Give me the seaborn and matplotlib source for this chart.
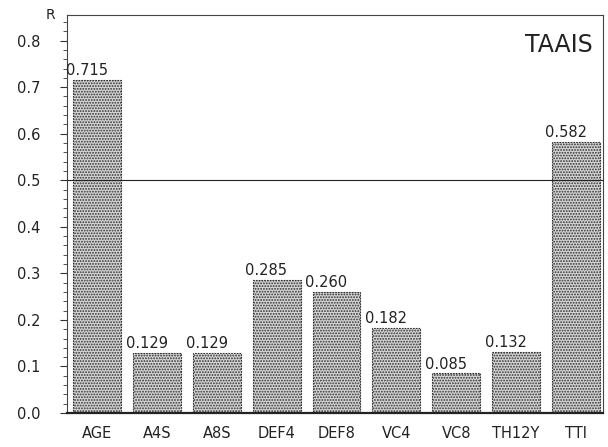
import matplotlib
matplotlib.use("Agg")
import matplotlib.pyplot as plt
import seaborn as sns
import pandas as pd
from matplotlib.ticker import MultipleLocator

categories = ["AGE", "A4S", "A8S", "DEF4", "DEF8", "VC4", "VC8", "TH12Y", "TTI"]
r_values = [0.715, 0.129, 0.129, 0.285, 0.260, 0.182, 0.085, 0.132, 0.582]
y_ticks = [0.0, 0.1, 0.2, 0.3, 0.4, 0.5, 0.6, 0.7, 0.8]

df = pd.DataFrame({"var": categories, "R": r_values})

sns.set_theme(style="white")
plt.rcParams["font.family"] = ["DejaVu Sans"]
plt.rcParams["hatch.color"] = "#2e2e2e"
plt.rcParams["hatch.linewidth"] = 0.9

fig = plt.figure(figsize=(6.08, 4.47), dpi=100)
ax = fig.add_axes([67 / 608, 34 / 447, (603 - 67) / 608, (413 - 15) / 447])

sns.barplot(data=df, x="var", y="R", ax=ax, color="#d4d4d4", width=0.8,
            edgecolor="#333333", linewidth=0.8, saturation=1)
for patch in ax.patches:
    patch.set_hatch("......")
    patch.set_linestyle((0, (1.5, 1)))

# value labels sit just above each bar, nudged slightly left
for i, v in enumerate(r_values):
    ax.text(i - 0.17, v + 0.004, f"{v:.3f}", ha="center", va="bottom",
            fontsize=10.5, color="#222222")

ax.axhline(0.5, color="#222222", linewidth=0.8, zorder=5)

ax.set_xlim(-0.5, 8.45)
ax.set_ylim(0, 0.855)
ax.set_yticks(y_ticks)
ax.set_yticklabels([f"{t:.1f}" for t in y_ticks], fontsize=10.5, color="#222222")
ax.yaxis.set_minor_locator(MultipleLocator(0.02))
ax.tick_params(axis="y", which="major", left=True, length=5, width=0.8,
               color="#333333", pad=14)
ax.tick_params(axis="y", which="minor", left=True, length=3, width=0.6,
               color="#333333")
ax.tick_params(axis="x", bottom=False, labelsize=10.5, labelcolor="#222222", pad=3)
ax.set_xlabel("")
ax.set_ylabel("")

for side in ["left", "right", "top"]:
    ax.spines[side].set_color("#444444")
    ax.spines[side].set_linewidth(0.8)
ax.spines["bottom"].set_color("#222222")
ax.spines["bottom"].set_linewidth(1.6)

ax.text(-0.03, 1.0, "R", transform=ax.transAxes, ha="center", va="center",
        fontsize=10, color="#222222")
ax.text(0.98, 0.955, "TAAIS", transform=ax.transAxes, ha="right", va="top",
        fontsize=17, color="#222222")

fig.savefig("out.png", dpi=100, facecolor="white")
